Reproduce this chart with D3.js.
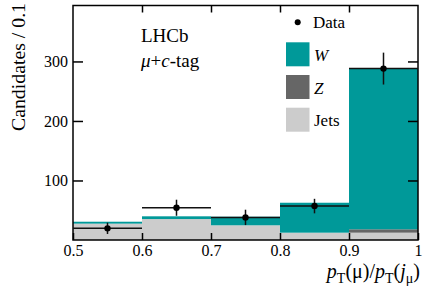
<!doctype html>
<html>
<head>
<meta charset="utf-8">
<script src="https://cdnjs.cloudflare.com/ajax/libs/d3/7.8.5/d3.min.js"></script>
<style>
  body { margin: 0; background: #fff; }
  svg text { font-family: "Liberation Serif", "Times New Roman", serif; fill: #000; }
</style>
</head>
<body>
<svg id="chart" width="427" height="290"></svg>
<script>
// bin edges of pT(mu)/pT(j_mu)
var binEdges = [0.5, 0.6, 0.7, 0.8, 0.9, 1.0];
// stacked templates, bottom to top
var jets = [27.5, 35.2, 24.7, 12.3, 12.3];
var zBoson = [0, 0, 0, 0, 5.7];
var wBoson = [3.2, 4.6, 14.4, 50.3, 270];
// data points and errors
var dataVals = [19.6, 54.2, 38, 57, 288];
var dataErr = [9.5, 13.5, 12.9, 12.2, 26.8];
var xTicks = [0.5, 0.6, 0.7, 0.8, 0.9, 1.0];
var yTicks = [100, 200, 300];

var teal = "#009999", zCol = "#666666", jetCol = "#cccccc";
var serif = '"Liberation Serif", "Times New Roman", serif';

var svg = d3.select("#chart"),
    pLeft = 73, pRight = 418, pTop = 5.5, pBottom = 240;

var x = d3.scaleLinear().domain([0.5, 1]).range([pLeft, pRight]);
var y = d3.scaleLinear().domain([0, 394]).range([pBottom, pTop]);

// stacked histogram
var bins = d3.range(jets.length).map(function(i) {
    return {lo: binEdges[i], hi: binEdges[i + 1], jets: jets[i], z: zBoson[i], w: wBoson[i]};
});
var layers = [
    {key: "jets", col: jetCol, base: function(d) { return 0; }},
    {key: "z", col: zCol, base: function(d) { return d.jets; }},
    {key: "w", col: teal, base: function(d) { return d.jets + d.z; }}
];
var hist = svg.append("g");
layers.forEach(function(l) {
    hist.selectAll(null)
        .data(bins)
        .enter().append("rect")
        .attr("x", function(d) { return x(d.lo); })
        .attr("width", function(d) { return x(d.hi) - x(d.lo); })
        .attr("y", function(d) { return y(l.base(d) + d[l.key]); })
        .attr("height", function(d) { return y(l.base(d)) - y(l.base(d) + d[l.key]); })
        .attr("fill", l.col);
});

// axes, ticks pointing inward
var fmt = function(d) { return d === 1 ? "1" : d3.format(".1f")(d); };
var gx = svg.append("g").attr("transform", "translate(0," + pBottom + ")")
    .call(d3.axisBottom(x).tickValues(xTicks).tickSize(-7).tickPadding(5).tickFormat(fmt));
var gy = svg.append("g").attr("transform", "translate(" + pLeft + ",0)")
    .call(d3.axisLeft(y).tickValues(yTicks).tickSize(-10).tickPadding(5));
var gt = svg.append("g").attr("transform", "translate(0," + pTop + ")")
    .call(d3.axisTop(x).tickValues([0.6, 0.7, 0.8, 0.9]).tickSize(-7).tickFormat(""));
var gr = svg.append("g").attr("transform", "translate(" + pRight + ",0)")
    .call(d3.axisRight(y).tickValues(yTicks).tickSize(-10).tickFormat(""));
[gx, gy, gt, gr].forEach(function(g) {
    g.attr("font-family", serif).attr("font-size", 16);
    g.select(".domain").remove();
    g.selectAll(".tick line").attr("stroke", "#000").attr("stroke-width", 1.5);
});

// frame
svg.append("rect")
    .attr("x", pLeft).attr("y", pTop)
    .attr("width", pRight - pLeft).attr("height", pBottom - pTop)
    .attr("fill", "none").attr("stroke", "#000").attr("stroke-width", 1.5);

// data points
var pts = dataVals.map(function(v, i) {
    return {lo: binEdges[i], hi: binEdges[i + 1], v: v, e: dataErr[i]};
});
var gd = svg.append("g");
gd.selectAll(".hbar").data(pts).enter().append("line")
    .attr("x1", function(d) { return x(d.lo); })
    .attr("x2", function(d) { return x(d.hi); })
    .attr("y1", function(d) { return y(d.v); })
    .attr("y2", function(d) { return y(d.v); })
    .attr("stroke", "#111").attr("stroke-width", 1.5);
gd.selectAll(".vbar").data(pts).enter().append("line")
    .attr("x1", function(d) { return x((d.lo + d.hi) / 2); })
    .attr("x2", function(d) { return x((d.lo + d.hi) / 2); })
    .attr("y1", function(d) { return y(d.v - d.e); })
    .attr("y2", function(d) { return y(d.v + d.e); })
    .attr("stroke", "#111").attr("stroke-width", 1.5);
gd.selectAll("circle").data(pts).enter().append("circle")
    .attr("cx", function(d) { return x((d.lo + d.hi) / 2); })
    .attr("cy", function(d) { return y(d.v); })
    .attr("r", 3.2).attr("fill", "#000");

// legend
var leg = svg.append("g");
leg.append("circle").attr("cx", 297.7).attr("cy", 22.3).attr("r", 3).attr("fill", "#000");
leg.append("text").attr("x", 313).attr("y", 27.5).attr("font-size", 17).text("Data");
var legItems = [
    {label: "W", col: teal, italic: true},
    {label: "Z", col: zCol, italic: true},
    {label: "Jets", col: jetCol, italic: false}
];
legItems.forEach(function(it, i) {
    var yy = 42.3 + i * 32.7;
    leg.append("rect").attr("x", 286).attr("y", yy).attr("width", 23.5).attr("height", 24).attr("fill", it.col);
    leg.append("text").attr("x", 314).attr("y", yy + 18.5).attr("font-size", 17)
        .attr("font-style", it.italic ? "italic" : null).text(it.label);
});

// LHCb label
svg.append("text").attr("x", 141).attr("y", 42.3).attr("font-size", 19).text("LHCb");
var tag = svg.append("text").attr("x", 141).attr("y", 66.5).attr("font-size", 19);
tag.append("tspan").attr("font-style", "italic").text("\u03bc");
tag.append("tspan").text("+");
tag.append("tspan").attr("font-style", "italic").text("c");
tag.append("tspan").text("-tag");

// y title
svg.append("text")
    .attr("transform", "translate(25,3) rotate(-90)")
    .attr("text-anchor", "end").attr("font-size", 19.8)
    .text("Candidates / 0.1");

// x title
var xt = svg.append("text").attr("x", 420).attr("y", 278)
    .attr("text-anchor", "end").attr("font-size", 20);
xt.append("tspan").attr("font-style", "italic").text("p");
xt.append("tspan").attr("font-size", 14).attr("dy", 5).text("T");
xt.append("tspan").attr("dy", -5).text("(\u03bc)/");
xt.append("tspan").attr("font-style", "italic").text("p");
xt.append("tspan").attr("font-size", 14).attr("dy", 5).text("T");
xt.append("tspan").attr("dy", -5).text("(");
xt.append("tspan").attr("font-style", "italic").text("j");
xt.append("tspan").attr("font-size", 14).attr("dy", 5).text("\u03bc");
xt.append("tspan").attr("dy", -5).text(")");
</script>
</body>
</html>
